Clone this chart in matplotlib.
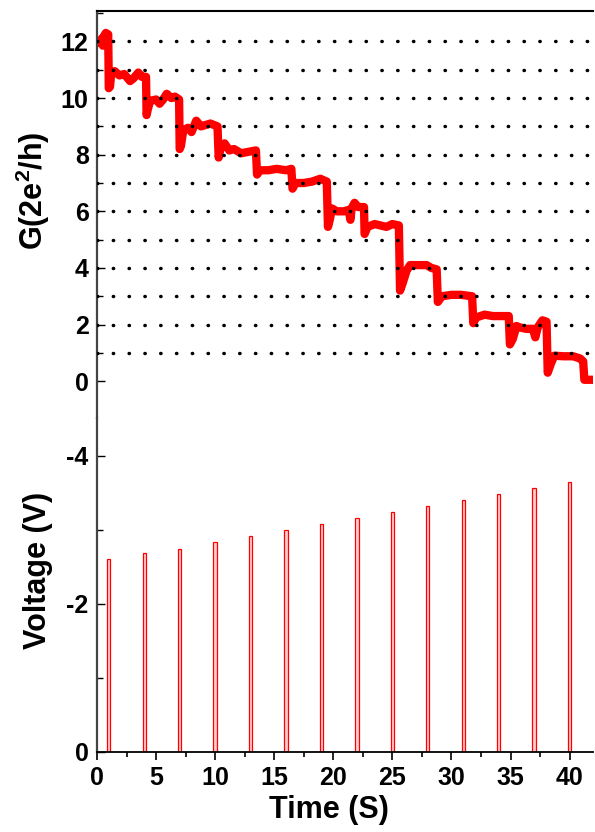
import matplotlib
matplotlib.use("Agg")
import matplotlib.pyplot as plt
from matplotlib.ticker import MultipleLocator, FixedLocator

plt.rcParams['font.family'] = ['Liberation Sans', 'DejaVu Sans']
plt.rcParams['font.weight'] = 'bold'
plt.rcParams['axes.unicode_minus'] = False
plt.rcParams['mathtext.fontset'] = 'custom'
plt.rcParams['mathtext.rm'] = 'Liberation Sans:bold'
plt.rcParams['mathtext.it'] = 'Liberation Sans:bold'
plt.rcParams['mathtext.bf'] = 'Liberation Sans:bold'

# conductance trace (time in s, G in 2e^2/h)
t_g = [0.0, 0.2, 0.4, 0.5, 0.6, 0.75, 0.95,
       1.0, 1.1, 1.2, 1.5, 1.9, 2.3, 2.8, 3.1, 3.5, 3.8, 4.15,
       4.2, 4.3, 4.5, 5.0, 5.3, 5.6, 5.9, 6.3, 6.6, 6.95,
       7.0, 7.1, 7.3, 7.7, 8.0, 8.4, 8.8, 9.2, 9.6, 10.2,
       10.3, 10.5, 10.8, 11.2, 11.6, 12.2, 12.8, 13.45,
       13.55, 13.8, 14.5, 15.2, 16.0, 16.45,
       16.55, 16.8, 17.5, 18.2, 18.9, 19.45,
       19.55, 19.7, 19.9, 20.3, 20.9, 21.3, 21.45, 21.55, 21.8, 22.1, 22.6,
       22.65, 22.9, 23.5, 24.0, 24.5, 25.0, 25.55,
       25.65, 25.9, 26.2, 26.5, 27.2, 27.9, 28.3, 28.75,
       28.85, 29.2, 30.0, 30.8, 31.75,
       31.85, 32.1, 32.8, 33.5, 34.2, 34.85,
       34.95, 35.2, 35.5, 35.8, 36.3, 36.9, 37.1, 37.3, 37.7, 38.05,
       38.15, 38.4, 38.7, 39.5, 40.3, 40.9, 41.15,
       41.25, 42.0]
g = [12.0, 11.95, 12.1, 11.85, 12.2, 12.3, 12.25,
     10.35, 10.4, 10.85, 10.95, 10.8, 10.85, 10.6, 10.7, 10.9, 10.75, 10.75,
     9.4, 9.6, 9.9, 9.95, 9.8, 9.95, 10.15, 10.0, 10.05, 9.95,
     8.2, 8.3, 8.85, 8.95, 8.8, 9.2, 9.0, 9.05, 9.1, 9.0,
     7.9, 8.3, 8.4, 8.15, 8.2, 8.05, 8.1, 8.15,
     7.3, 7.45, 7.45, 7.5, 7.45, 7.5,
     6.8, 7.0, 7.0, 7.05, 7.15, 7.05,
     5.45, 5.7, 6.1, 6.0, 6.0, 6.05, 5.7, 6.1, 6.3, 6.15, 6.15,
     5.2, 5.45, 5.55, 5.5, 5.45, 5.55, 5.5,
     3.2, 3.5, 3.9, 4.1, 4.1, 4.1, 4.0, 3.95,
     2.8, 3.0, 3.05, 3.05, 3.0,
     2.05, 2.25, 2.35, 2.3, 2.3, 2.3,
     1.3, 1.5, 1.95, 1.9, 1.85, 1.85, 1.55, 1.9, 2.15, 2.1,
     0.3, 0.6, 0.9, 0.88, 0.88, 0.8, 0.7,
     0.05, 0.05]

quant_levels = [1, 2, 3, 4, 5, 6, 7, 8, 9, 10, 11, 12]

# voltage pulses
t_pulse = [1, 4, 7, 10, 13, 16, 19, 22, 25, 28, 31, 34, 37, 40]
v_pulse = [-2.61, -2.69, -2.74, -2.84, -2.92, -3.0, -3.08,
           -3.16, -3.24, -3.32, -3.40, -3.48, -3.56, -3.64]

fig = plt.figure(figsize=(5.95, 8.32), dpi=100)
ax1 = fig.add_axes([0.163, 0.4976, 0.834, 0.489])
ax2 = fig.add_axes([0.163, 0.0962, 0.834, 0.4014])

# top panel
ax1.plot(t_g, g, color='#ff0000', lw=6, solid_joinstyle='round',
         solid_capstyle='round', zorder=2)
for lv in quant_levels:
    ax1.axhline(lv, color='black', lw=2.5, linestyle=(0, (0.1, 4.45)),
                dash_capstyle='round', zorder=3)
ax1.set_xlim(0, 42)
ax1.set_ylim(-1.3, 13.07)
ax1.set_yticks([0, 2, 4, 6, 8, 10, 12])
ax1.yaxis.set_minor_locator(FixedLocator([1, 3, 5, 7, 9, 11, 13]))
ax1.tick_params(axis='y', which='major', direction='in', length=6, width=1,
                labelsize=18, pad=6)
ax1.tick_params(axis='y', which='minor', direction='in', length=4, width=1)
ax1.tick_params(axis='x', which='both', bottom=False, labelbottom=False)
ax1.spines['bottom'].set_visible(False)
ax1.spines['right'].set_visible(False)
ax1.spines['top'].set_linewidth(1.5)
ax1.spines['left'].set_linewidth(1.6)
ax1.spines['left'].set_color('#444444')
ax1.set_ylabel('G(2e$^{2}$/h)', fontsize=22, fontweight='bold')
ax1.yaxis.set_label_coords(-0.091, 0.558)

# bottom panel
ax2.bar(t_pulse, v_pulse, width=0.28, facecolor='#ffd0d0', edgecolor='#ff0000',
        linewidth=0.9)
ax2.set_xlim(0, 42)
ax2.set_ylim(0, -4.51)
ax2.set_yticks([0, -2, -4])
ax2.yaxis.set_minor_locator(FixedLocator([-1, -3]))
ax2.set_xticks(range(0, 41, 5))
ax2.xaxis.set_minor_locator(MultipleLocator(2.5))
ax2.tick_params(axis='y', which='major', direction='in', length=6, width=1,
                labelsize=18, pad=6)
ax2.tick_params(axis='y', which='minor', direction='in', length=4, width=1)
ax2.tick_params(axis='x', which='major', direction='out', length=6, width=1.2,
                labelsize=18, pad=4)
ax2.tick_params(axis='x', which='minor', direction='out', length=3.5, width=1.2)
ax2.spines['top'].set_visible(False)
ax2.spines['right'].set_visible(False)
ax2.spines['bottom'].set_linewidth(1.3)
ax2.spines['left'].set_linewidth(1.6)
ax2.spines['left'].set_color('#444444')
ax2.set_ylabel('Voltage (V)', fontsize=22, fontweight='bold')
ax2.yaxis.set_label_coords(-0.089, 0.545)
ax2.set_xlabel('Time (S)', fontsize=22, fontweight='bold')
ax2.xaxis.set_label_coords(0.468, -0.129)

fig.savefig('out.png', dpi=100)
